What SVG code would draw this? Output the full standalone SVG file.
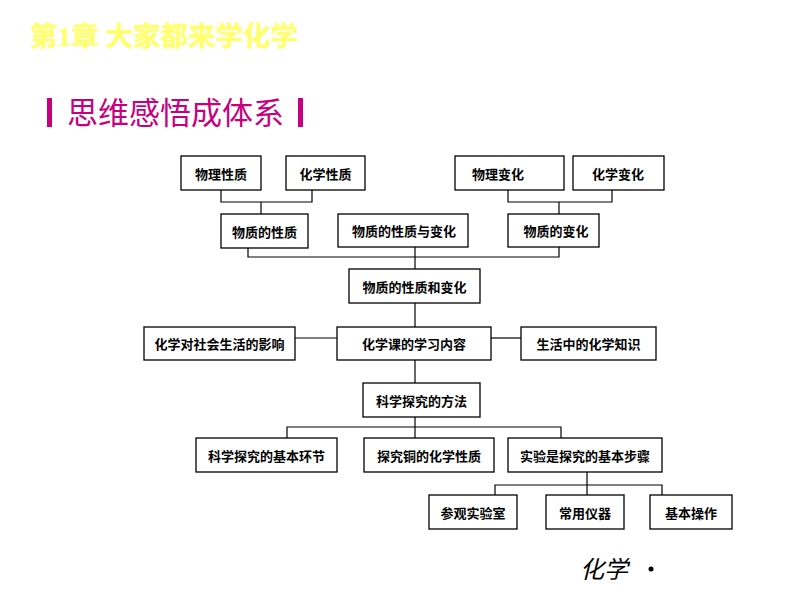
<svg xmlns="http://www.w3.org/2000/svg" width="800" height="600" viewBox="0 0 800 600">
<style>
.box{fill:#fff;stroke:#000;stroke-width:1.3}
.t{font-family:"Noto Sans CJK SC","Noto Sans",sans-serif;font-size:13px;font-weight:bold;fill:#000;text-anchor:middle;dominant-baseline:central}
.c{fill:none;stroke:#000;stroke-width:1.2}
</style>
<rect width="800" height="600" fill="#fff"/>
<text x="30" y="46" font-family="'Liberation Serif','Noto Sans CJK SC',serif" font-size="27.5" font-weight="bold" fill="#FFFF66" stroke="#FFFF99" stroke-width="0.6">第1章 大家都来学化学</text>
<rect x="47" y="98" width="5" height="29" fill="#C8007F"/>
<rect x="298" y="98" width="5" height="29" fill="#C8007F"/>
<text x="67" y="124" font-family="'Noto Sans CJK SC',sans-serif" font-size="31" fill="#C8007F">思维感悟成体系</text>
<g id="connectors">
<polyline class="c" points="221,190 221,202 312,202 312,190"/>
<line class="c" x1="261" y1="202" x2="261" y2="214"/>
<polyline class="c" points="508,190 508,202 612,202 612,190"/>
<line class="c" x1="559" y1="202" x2="559" y2="214"/>
<polyline class="c" points="248,248 248,257 559,257 559,247"/>
<line class="c" x1="415" y1="247" x2="415" y2="269"/>
<line class="c" x1="415" y1="303" x2="415" y2="327"/>
<line class="c" x1="295" y1="338" x2="337" y2="338"/>
<line class="c" x1="491" y1="338" x2="521" y2="338"/>
<line class="c" x1="415" y1="360" x2="415" y2="383"/>
<line class="c" x1="415" y1="417" x2="415" y2="438"/>
<polyline class="c" points="287,438 287,427 561,427 561,438"/>
<line class="c" x1="587" y1="472" x2="587" y2="495"/>
<polyline class="c" points="495,495 495,485 662,485 662,495"/>
</g>
<g id="n1"><rect class="box" x="181" y="156" width="80" height="34"/><text class="t" x="221" y="173">物理性质</text></g>
<g id="n2"><rect class="box" x="286" y="156" width="79" height="34"/><text class="t" x="325.5" y="173">化学性质</text></g>
<g id="n3"><rect class="box" x="455" y="156" width="109" height="34"/><text class="t" x="498" y="173">物理变化</text></g>
<g id="n4"><rect class="box" x="573" y="156" width="91" height="34"/><text class="t" x="618" y="173">化学变化</text></g>
<g id="n5"><rect class="box" x="221" y="214" width="87" height="34"/><text class="t" x="264.5" y="231">物质的性质</text></g>
<g id="n6"><rect class="box" x="338" y="214" width="130" height="33"/><text class="t" x="404" y="230.5">物质的性质与变化</text></g>
<g id="n7"><rect class="box" x="508" y="214" width="91" height="33"/><text class="t" x="556" y="230.5">物质的变化</text></g>
<g id="n8"><rect class="box" x="349" y="269" width="131" height="34"/><text class="t" x="414.5" y="286">物质的性质和变化</text></g>
<g id="n9"><rect class="box" x="144" y="327" width="151" height="33"/><text class="t" x="219.5" y="343.5">化学对社会生活的影响</text></g>
<g id="n10"><rect class="box" x="337" y="327" width="154" height="33"/><text class="t" x="414" y="343.5">化学课的学习内容</text></g>
<g id="n11"><rect class="box" x="521" y="327" width="135" height="33"/><text class="t" x="588.5" y="343.5">生活中的化学知识</text></g>
<g id="n12"><rect class="box" x="363" y="383" width="117" height="34"/><text class="t" x="421.5" y="400">科学探究的方法</text></g>
<g id="n13"><rect class="box" x="196" y="438" width="141" height="34"/><text class="t" x="266.5" y="455">科学探究的基本环节</text></g>
<g id="n14"><rect class="box" x="364" y="438" width="130" height="34"/><text class="t" x="429" y="455">探究铜的化学性质</text></g>
<g id="n15"><rect class="box" x="508" y="438" width="154" height="34"/><text class="t" x="585" y="455">实验是探究的基本步骤</text></g>
<g id="n16"><rect class="box" x="429" y="495" width="88" height="34"/><text class="t" x="473" y="512">参观实验室</text></g>
<g id="n17"><rect class="box" x="546" y="495" width="78" height="34"/><text class="t" x="585" y="512">常用仪器</text></g>
<g id="n18"><rect class="box" x="650" y="495" width="82" height="34"/><text class="t" x="691" y="512">基本操作</text></g>
<text x="580" y="578" font-family="'Noto Sans CJK SC',sans-serif" font-size="24" font-style="italic" fill="#000">化学</text>
<circle cx="651" cy="569" r="2.5" fill="#000"/>
</svg>
